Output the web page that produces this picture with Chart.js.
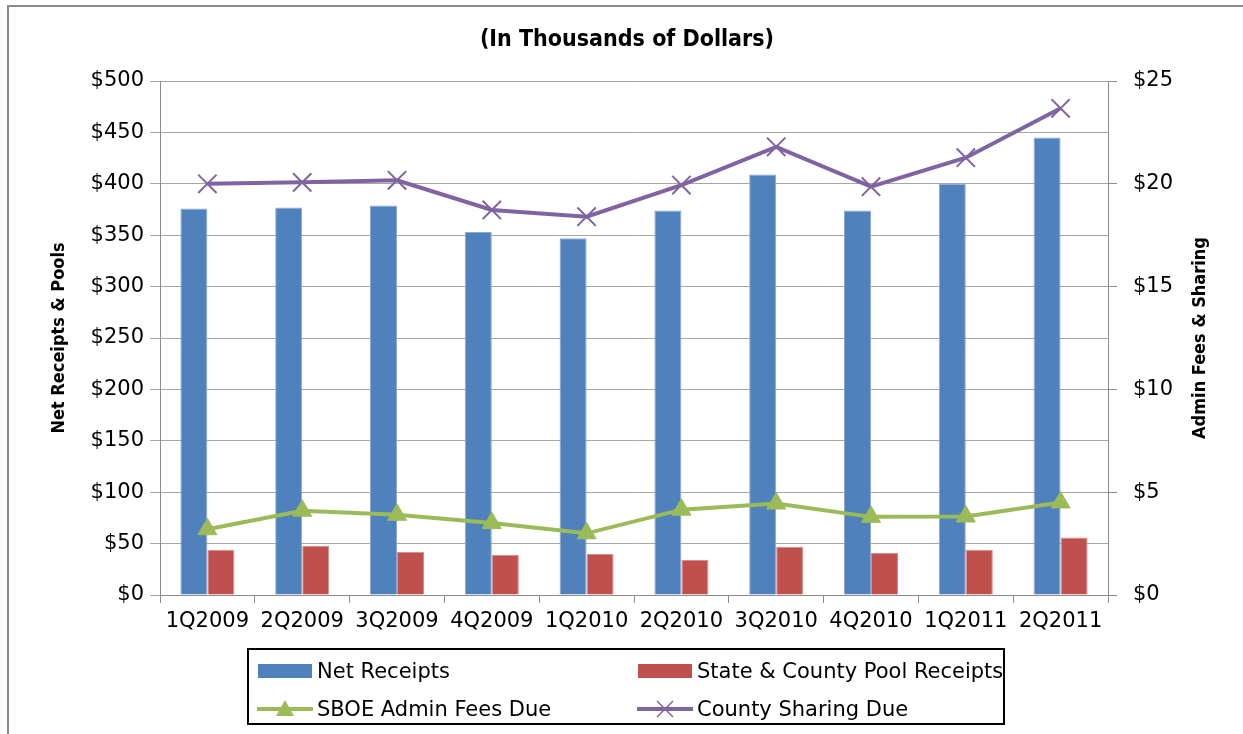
<!DOCTYPE html>
<html>
<head>
<meta charset="utf-8">
<script src="https://cdn.jsdelivr.net/npm/chart.js@4.4.0/dist/chart.umd.min.js"></script>
<style>
  html, body { margin: 0; padding: 0; background: #fff; }
  #wrap { position: relative; width: 1243px; height: 734px; overflow: hidden; }
  #frame { position: absolute; left: 7px; top: 5px; width: 1300px; height: 800px;
           border-left: 2px solid #8c8c8c; border-top: 2px solid #8c8c8c; }
  #title { position: absolute; left: 327px; width: 600px; top: 25px; text-align: center;
           font: bold 23px "DejaVu Sans Condensed", "DejaVu Sans", sans-serif; color: #000; }
  #chart { position: absolute; left: 0; top: 0; }
  #legend { position: absolute; left: 247px; top: 648px; width: 754px; height: 73px;
            border: 2px solid #000; font: 21px "DejaVu Sans"; color: #000; }
  .item { position: absolute; height: 26px; line-height: 26px; white-space: nowrap; }
  .item canvas { vertical-align: middle; margin-right: 4px; }
  .item span { vertical-align: middle; }
</style>
</head>
<body>
<div id="wrap">
  <div id="frame"></div>
  <canvas id="chart" width="1243" height="734"></canvas>
  <div id="title">(In Thousands of Dollars)</div>
  <div id="legend"></div>
</div>
<script>
const quarters = ["1Q2009", "2Q2009", "3Q2009", "4Q2009", "1Q2010", "2Q2010", "3Q2010", "4Q2010", "1Q2011", "2Q2011"];
const netReceipts = [376, 377, 379, 353, 347, 374, 409, 374, 400, 445];
const poolReceipts = [44, 48, 42, 39, 40, 34, 47, 41, 44, 56];
const adminFees = [3.2, 4.1, 3.9, 3.5, 3.0, 4.15, 4.45, 3.8, 3.82, 4.5];
const countySharing = [20.0, 20.07, 20.17, 18.73, 18.4, 19.94, 21.8, 19.86, 21.27, 23.67];
const leftTicks = [0, 50, 100, 150, 200, 250, 300, 350, 400, 450, 500];
const rightTicks = [0, 5, 10, 15, 20, 25];

const blue = "#4F81BD", red = "#C0504D", green = "#9BBB59", purple = "#8064A2";
const narrow = "'DejaVu Sans Condensed', 'DejaVu Sans', sans-serif";

Chart.defaults.font.family = "DejaVu Sans";
Chart.defaults.color = "#000";

// right axis title reads bottom-to-top, like the left one
const rightTitle = {
  id: "rightTitle",
  afterDraw(chart) {
    const c = chart.ctx;
    const area = chart.chartArea;
    c.save();
    c.translate(1200, (area.top + area.bottom) / 2);
    c.rotate(-Math.PI / 2);
    c.font = "bold 18px " + narrow;
    c.fillStyle = "#000";
    c.textAlign = "center";
    c.textBaseline = "middle";
    c.fillText("Admin Fees & Sharing", 0, 0);
    c.restore();
  }
};

const ctx = document.getElementById("chart");
const chart = new Chart(ctx, {
  data: {
    labels: quarters,
    datasets: [
      { type: "line", label: "SBOE Admin Fees Due", data: adminFees, yAxisID: "y1", order: 0,
        borderColor: green, backgroundColor: green, borderWidth: 4,
        pointStyle: "triangle", pointRadius: 11, pointBorderWidth: 1 },
      { type: "line", label: "County Sharing Due", data: countySharing, yAxisID: "y1", order: 0,
        borderColor: purple, backgroundColor: purple, borderWidth: 4,
        pointStyle: "crossRot", pointRadius: 13, pointBorderWidth: 2 },
      { type: "bar", label: "Net Receipts", data: netReceipts, yAxisID: "y", order: 1,
        backgroundColor: blue, borderColor: "#8aa9d3", borderWidth: 1,
        categoryPercentage: 0.57, barPercentage: 1.0 },
      { type: "bar", label: "State & County Pool Receipts", data: poolReceipts, yAxisID: "y", order: 1,
        backgroundColor: red, borderColor: "#d68c8a", borderWidth: 1,
        categoryPercentage: 0.57, barPercentage: 1.0 }
    ]
  },
  options: {
    responsive: false,
    animation: false,
    layout: { padding: { top: 81, bottom: 94, left: 0, right: 0 } },
    plugins: { legend: { display: false }, tooltip: { enabled: false } },
    scales: {
      x: {
        afterFit: (s) => { s.height = 45; },
        grid: { offset: true, drawOnChartArea: false, tickLength: 8, color: "#8c8c8c" },
        border: { color: "#8c8c8c" },
        ticks: { font: { size: 21 }, maxRotation: 0, autoSkip: false, padding: 6 }
      },
      y: {
        position: "left",
        min: 0, max: 500,
        afterFit: (s) => { s.width = 160; },
        afterBuildTicks: (s) => { s.ticks = leftTicks.map(v => ({ value: v })); },
        grid: { color: "#a6a6a6", tickLength: 10 },
        border: { color: "#8c8c8c" },
        ticks: { font: { size: 21 }, padding: 6, callback: (v) => "$" + v },
        title: { display: true, text: "Net Receipts & Pools",
                 font: { size: 18, weight: "bold", family: narrow },
                 padding: { top: 49, bottom: 0 } }
      },
      y1: {
        position: "right",
        min: 0, max: 25,
        afterFit: (s) => { s.width = 135; },
        afterBuildTicks: (s) => { s.ticks = rightTicks.map(v => ({ value: v })); },
        grid: { drawOnChartArea: false, color: "#8c8c8c", tickLength: 9 },
        border: { color: "#8c8c8c" },
        ticks: { font: { size: 21 }, padding: 16, callback: (v) => "$" + v }
      }
    }
  },
  plugins: [rightTitle]
});

// legend, built from the datasets
const legend = document.getElementById("legend");
const order = [2, 3, 0, 1];
const spots = [[8, 7], [388, 7], [8, 45], [388, 45]];
order.forEach((idx, k) => {
  const ds = chart.data.datasets[idx];
  const item = document.createElement("div");
  item.className = "item";
  item.style.left = spots[k][0] + "px";
  item.style.top = spots[k][1] + "px";
  const sw = document.createElement("canvas");
  sw.width = 56; sw.height = 24;
  const g = sw.getContext("2d");
  if (ds.type === "bar") {
    g.fillStyle = ds.backgroundColor;
    g.fillRect(1, 5, 54, 14);
  } else {
    g.strokeStyle = ds.borderColor;
    g.lineWidth = 4;
    g.beginPath(); g.moveTo(0, 12); g.lineTo(56, 12); g.stroke();
    if (ds.pointStyle === "triangle") {
      g.fillStyle = ds.backgroundColor;
      g.beginPath(); g.moveTo(28, 3); g.lineTo(37, 19); g.lineTo(19, 19); g.closePath(); g.fill();
    } else {
      g.lineWidth = 1.5;
      g.beginPath(); g.moveTo(20, 4); g.lineTo(36, 20); g.moveTo(36, 4); g.lineTo(20, 20); g.stroke();
    }
  }
  item.appendChild(sw);
  const t = document.createElement("span");
  t.textContent = ds.label;
  item.appendChild(t);
  legend.appendChild(item);
});
</script>
</body>
</html>
